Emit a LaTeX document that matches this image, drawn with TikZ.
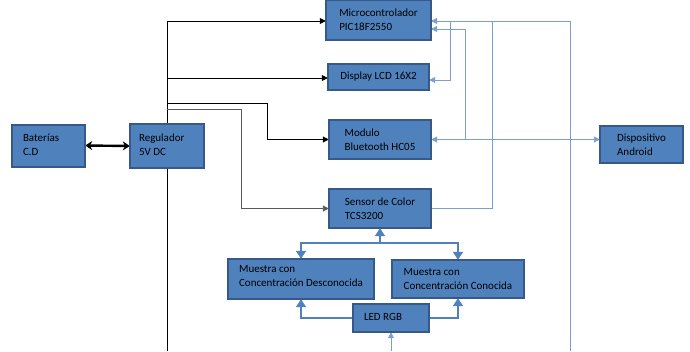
\documentclass[tikz,border=0pt]{standalone}
\usepackage{fontspec}
\setmainfont{Carlito}
\usetikzlibrary{arrows.meta}
\definecolor{boxfill}{HTML}{4F81BD}
\definecolor{boxedge}{HTML}{36598A}
\definecolor{thinblue}{HTML}{7AA0D2}
\definecolor{thickblue}{HTML}{4F81BD}
\tikzset{
  blk/.style={draw=boxedge, fill=boxfill, line width=2pt, align=left,
    font=\fontsize{11}{14}\selectfont, inner sep=0pt},
  bk/.style={black, line width=0.8pt},
  gk/.style={black!65, line width=0.9pt},
  bl/.style={thinblue, line width=0.9pt},
  tb/.style={thickblue, line width=2.6pt},
  tip/.style={-{Triangle[length=6pt,width=6pt]}},
  btip/.style={-{Triangle[length=8pt,width=10pt]}},
  ltip/.style={-{Triangle[length=6pt,width=6pt]}},
}
% left-aligned block text inside a box of fixed width
\newcommand{\lefttext}[2]{\makebox[#1][l]{\begin{tabular}{@{}l@{}}#2\end{tabular}}}
\begin{document}
\begin{tikzpicture}[x=1pt,y=-1pt]
\useasboundingbox (0,0) rectangle (690,351);

% block positions (centres)
\coordinate (pbat) at (48.5,145.5);
\coordinate (preg) at (167,146);
\coordinate (pmcu) at (378.5,20);
\coordinate (plcd) at (378.5,77);
\coordinate (pbt)  at (380,139.5);
\coordinate (psen) at (380,208.5);
\coordinate (pand) at (641.5,144.5);
\coordinate (pmd)  at (301,279);
\coordinate (pmc)  at (458,279);
\coordinate (pled) at (391,318);

% invisible placeholders so connectors can be routed before the blocks are painted
\path node[minimum width=73, minimum height=42, inner sep=0] (bat) at (pbat) {}
      node[minimum width=74, minimum height=44, inner sep=0] (reg) at (preg) {}
      node[minimum width=105, minimum height=40, inner sep=0] (mcu) at (pmcu) {}
      node[minimum width=101, minimum height=26, inner sep=0] (lcd) at (plcd) {}
      node[minimum width=102, minimum height=39, inner sep=0] (bt) at (pbt) {}
      node[minimum width=102, minimum height=39, inner sep=0] (sen) at (psen) {}
      node[minimum width=83, minimum height=37, inner sep=0] (and) at (pand) {}
      node[minimum width=146, minimum height=40, inner sep=0] (md) at (pmd) {}
      node[minimum width=132, minimum height=38, inner sep=0] (mc) at (pmc) {}
      node[minimum width=76, minimum height=28, inner sep=0] (led) at (pled) {};

% supply bus from the regulator
\coordinate (rtop) at (167,21);
\coordinate (rbot) at (167,351);
\draw[bk] (rtop) -- (rbot);
\draw[bk,tip] (rtop) -- (mcu.west |- rtop);
\draw[bk,tip] (reg |- 0,78) -- (lcd.west |- 0,78);
\draw[bk,tip] (reg |- 0,103) -- (267,103) |- (bt.west);
\draw[gk,tip] (reg |- 0,109) -- (241,109) |- (sen.west);

% battery link
\draw[black, line width=2.4pt, {Stealth[length=7pt,width=9pt]}-{Stealth[length=7pt,width=9pt]}]
  (bat.east) -- (reg.west);

% signal lines around the microcontroller
\coordinate (m1) at (431,21);
\coordinate (m2) at (431,29);
\coordinate (rbus) at (570,351);
\draw[bl,ltip] (sen.east) -| (492,21) -- (m1);
\draw[bl] (492,21) -- (570,21) -- (rbus);
\draw[bl,ltip] (450,21) |- (lcd.east |- 0,80);
\draw[bl,{Triangle[length=6pt,width=6pt]}-{Triangle[length=6pt,width=6pt]}]
  (bt.east) -- (bt.east -| and.west);
\draw[bl,ltip] (bt.east -| 465,0) |- (m2);

% optical path
\coordinate (split) at (380,243);
\draw[tb,btip] (split) -- (sen.south);
\draw[tb,btip] (split) -| (md.north);
\draw[tb,btip] (split) -| (mc.north);
\draw[tb,btip] (led.west) -| (md.south);
\draw[tb,btip] (led.east) -| (mc.south);
\coordinate (ledin) at (391,351);
\draw[bl,ltip] (ledin) -- (led.south);

% blocks
\node[blk, minimum height=42, inner xsep=11] at (pbat) {\lefttext{51pt}{Baterías\\C.D}};
\node[blk, minimum height=44, inner xsep=9] at (preg) {\lefttext{56pt}{Regulador\\5V DC}};
\node[blk, minimum width=105, minimum height=40] at (pmcu) {Microcontrolador\\PIC18F2550};
\node[blk, minimum width=101, minimum height=26] at (plcd) {Display LCD 16X2};
\node[blk, minimum width=102, minimum height=39] at (pbt) {Modulo\\Bluetooth HC05};
\node[blk, minimum width=102, minimum height=39] at (psen) {Sensor de Color\\TCS3200};
\node[blk, minimum width=83, minimum height=37] at (pand) {Dispositivo\\Android};
\node[blk, minimum width=146, minimum height=40, text depth=7pt] at (pmd) {Muestra con\\Concentración Desconocida};
\node[blk, minimum width=132, minimum height=38] at (pmc) {Muestra con\\Concentración Conocida};
\node[blk, minimum height=28, inner xsep=11] at (pled) {\lefttext{54pt}{LED RGB}};
\end{tikzpicture}
\end{document}
